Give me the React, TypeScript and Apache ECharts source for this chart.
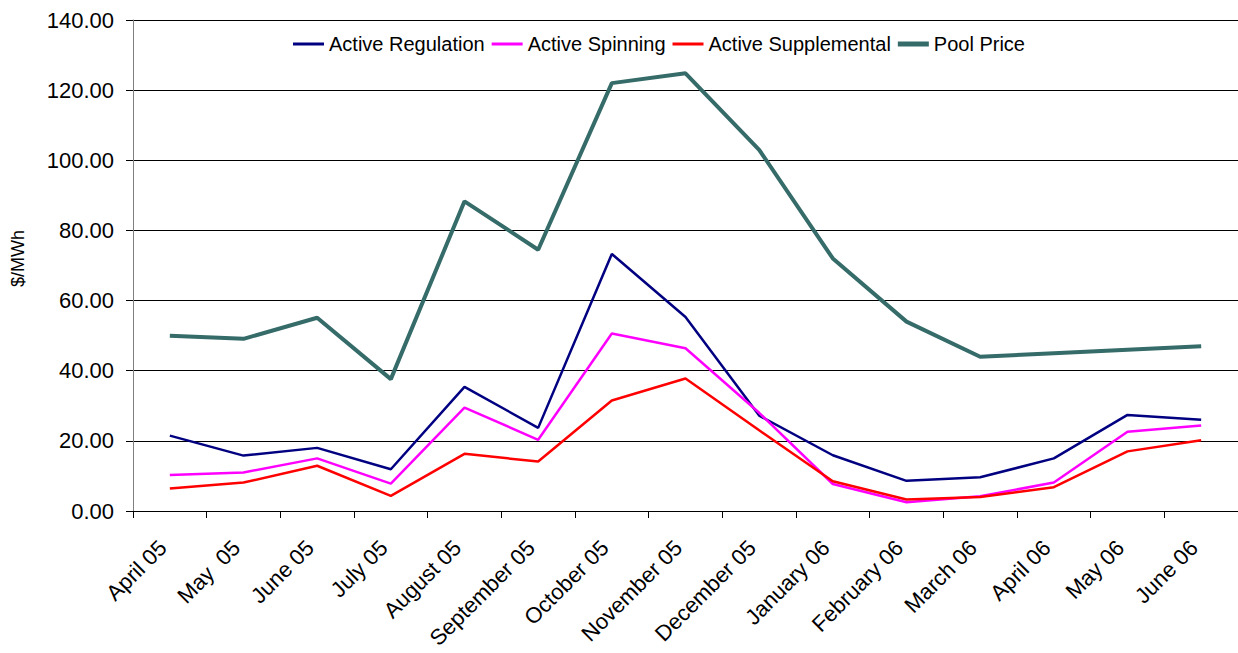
import React, { useEffect, useRef } from "react";
import * as echarts from "echarts";

const categories = [
  "April 05", "May  05", "June 05", "July 05", "August 05", "September 05",
  "October 05", "November 05", "December 05", "January 06", "February 06",
  "March 06", "April 06", "May 06", "June 06",
];
const activeRegulation = [21.5, 15.8, 18.0, 11.9, 35.4, 23.7, 73.3, 55.3, 27.2, 15.9, 8.6, 9.6, 15.0, 27.4, 26.0];
const activeSpinning = [10.3, 11.0, 15.0, 7.8, 29.5, 20.3, 50.6, 46.4, 28.0, 7.7, 2.5, 4.2, 8.1, 22.6, 24.4];
const activeSupplemental = [6.4, 8.1, 12.9, 4.3, 16.3, 14.1, 31.5, 37.8, 23.0, 8.5, 3.3, 4.0, 6.8, 17.0, 20.2];
const poolPrice = [50.0, 49.1, 55.1, 37.6, 88.3, 74.5, 122.0, 124.8, 103.0, 72.0, 54.0, 44.0, 45.0, 46.0, 47.0];

const FONT = "'Liberation Sans', Arial, sans-serif";
const THIN_ICON = "path://M0,0L31,0L31,3L0,3Z";
const THICK_ICON = "path://M0,0L31,0L31,5L0,5Z";

export default function App() {
  const ref = useRef<HTMLDivElement>(null);
  useEffect(() => {
    if (!ref.current) return;
    const chart = echarts.init(ref.current, undefined, { renderer: "svg" });
    const mk = (name: string, data: number[], color: string, width: number) => ({
      name,
      type: "line",
      data,
      symbol: "none",
      lineStyle: { color, width },
      itemStyle: { color },
      z: name === "Pool Price" ? 2 : 3,
    });
    chart.setOption({
      animation: false,
      backgroundColor: "#ffffff",
      textStyle: { fontFamily: FONT },
      grid: { left: 133, top: 20, width: 1106, height: 491, containLabel: false },
      legend: {
        left: 288,
        top: 29,
        itemWidth: 31,
        itemHeight: 14,
        itemGap: 7,
        symbolKeepAspect: true,
        textStyle: { fontFamily: FONT, fontSize: 20, color: "#000" },
        data: [
          { name: "Active Regulation", icon: THIN_ICON },
          { name: "Active Spinning", icon: THIN_ICON },
          { name: "Active Supplemental", icon: THIN_ICON },
          { name: "Pool Price", icon: THICK_ICON },
        ],
      },
      xAxis: {
        type: "category",
        data: categories,
        boundaryGap: true,
        axisLine: { lineStyle: { color: "#000", width: 1 } },
        axisTick: { show: true, length: 7, alignWithLabel: false, lineStyle: { color: "#000" } },
        axisLabel: {
          rotate: 45,
          interval: 0,
          margin: 26,
          padding: [0, 10, 0, 0],
          fontSize: 22,
          color: "#000",
          fontFamily: FONT,
        },
      },
      yAxis: {
        type: "value",
        min: 0,
        max: 140,
        interval: 20,
        name: "$/MWh",
        nameLocation: "middle",
        nameGap: 106,
        nameRotate: 90,
        nameTextStyle: { fontSize: 18, color: "#000", fontFamily: FONT, padding: [0, 0, 0, 14] },
        axisLine: { show: true, lineStyle: { color: "#808080", width: 1 } },
        axisTick: { show: true, length: 7, lineStyle: { color: "#000" } },
        axisLabel: {
          fontSize: 22,
          color: "#000",
          margin: 19,
          fontFamily: FONT,
          formatter: (v: number) => v.toFixed(2),
        },
        splitLine: { show: true, lineStyle: { color: "#000", width: 1 } },
      },
      series: [
        mk("Active Regulation", activeRegulation, "#000080", 2.5),
        mk("Active Spinning", activeSpinning, "#ff00ff", 2.5),
        mk("Active Supplemental", activeSupplemental, "#ff0000", 2.5),
        mk("Pool Price", poolPrice, "#356b68", 4),
      ],
    });
    return () => chart.dispose();
  }, []);
  return (
    <div
      ref={ref}
      style={{ position: "fixed", left: 0, top: 0, width: 1238, height: 653, background: "#fff" }}
    />
  );
}
